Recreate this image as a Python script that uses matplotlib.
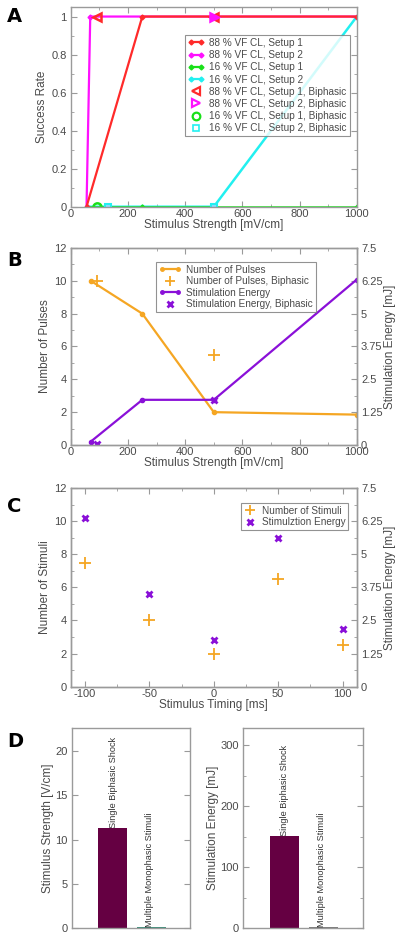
import matplotlib
matplotlib.use('Agg')
import matplotlib.pyplot as plt
from matplotlib.ticker import MultipleLocator
from matplotlib.lines import Line2D
from matplotlib.legend_handler import HandlerLine2D

plt.rcParams['font.family'] = ['Liberation Sans', 'DejaVu Sans']

# ---- panel A: success rate vs stimulus strength ----
a_x = [55, 250, 500, 1000]
a_88_s1 = [0, 1, 1, 1]
a_88_s2_x = [55, 68, 500, 1000]
a_88_s2 = [0, 1, 1, 1]
a_16_s1 = [0, 0, 0, 0]
a_16_s2 = [0, 0, 0, 1]
a_bi_88_s1_x = [92, 500]
a_bi_88_s1 = [1, 1]
a_bi_88_s2_x = [500]
a_bi_88_s2 = [1]
a_bi_16_s1_x = [92]
a_bi_16_s1 = [0]
a_bi_16_s2_x = [130, 500]
a_bi_16_s2 = [0, 0]

# ---- panel B: pulses / energy vs stimulus strength ----
b_x = [70, 250, 500, 1000]
b_pulses = [10, 8, 2, 1.85]
b_energy = [0.13, 1.72, 1.72, 6.3]
b_bi_x = [92, 500]
b_bi_pulses = [10, 5.5]
b_bi_energy = [0.03, 1.72]

# ---- panel C: stimuli / energy vs timing ----
c_timing = [-100, -50, 0, 50, 100]
c_stimuli = [7.5, 4, 2, 6.5, 2.5]
c_energy = [6.38, 3.5, 1.75, 5.62, 2.19]

# ---- panel D: bars ----
d_categories = ['Single Biphasic Shock', 'Multiple Monophasic Stimuli']
d_strength = [11.3, 0.15]
d_energy = [151, 1.0]

RED = '#ff2a2a'
MAG = '#ff10ff'
GRN = '#19e019'
CYN = '#22f0f0'
ORG = '#f5a623'
PUR = '#8a10d8'
FRAME = '#9a9a9a'
TXT = '#4a4a4a'
TICK_FS = 8
LAB_FS = 8.5
LEG_FS = 7.2
ENERGY_TICKS = [0, 1.25, 2.5, 3.75, 5, 6.25, 7.5]
ENERGY_LABELS = ['0', '1.25', '2.5', '3.75', '5', '6.25', '7.5']


def style(ax, right=True):
    for s in ax.spines.values():
        s.set_color(FRAME)
        s.set_linewidth(1.0)
    ax.tick_params(which='both', direction='in', top=True, right=right,
                   color=FRAME, labelcolor=TXT, labelsize=TICK_FS)
    ax.tick_params(axis='x', pad=1.5)
    ax.tick_params(axis='y', pad=3)
    ax.tick_params(which='major', length=4)
    ax.tick_params(which='minor', length=2)


def frame_legend(leg):
    leg.get_frame().set_edgecolor('#777777')
    leg.get_frame().set_linewidth(0.8)
    for t in leg.get_texts():
        t.set_color(TXT)


fig = plt.figure(figsize=(4, 9.38), dpi=100)

# Panel A
axA = fig.add_axes([0.177, 0.7796, 0.715, 0.2129])
mk = dict(marker='D', markersize=2.5)
axA.plot(a_x, a_16_s2, color=CYN, lw=1.8, **mk)
axA.plot(a_x, a_16_s1, color=GRN, lw=1.8, **mk)
axA.plot(a_88_s2_x, a_88_s2, color=MAG, lw=1.6, **mk)
axA.plot(a_x, a_88_s1, color=RED, lw=1.6, **mk)
axA.plot(a_bi_88_s1_x, a_bi_88_s1, ls='none', marker='<', ms=6, mfc='none', mec=RED, mew=1.8)
axA.plot(a_bi_88_s2_x, a_bi_88_s2, ls='none', marker='>', ms=6, mfc=MAG, mec=MAG, mew=1.8)
axA.plot(a_bi_16_s1_x, a_bi_16_s1, ls='none', marker='o', ms=6, mfc='none', mec=GRN, mew=1.8)
axA.plot(a_bi_16_s2_x, a_bi_16_s2, ls='none', marker='s', ms=5, mfc='#8fd8ff', mec=CYN, mew=1.5)
axA.set_xlim(0, 1000)
axA.set_ylim(0, 1.05)
axA.set_xticks([0, 200, 400, 600, 800, 1000])
axA.set_xticklabels(['0', '200', '400', '600', '800', '1000'])
axA.xaxis.set_minor_locator(MultipleLocator(100))
axA.set_yticks([0, 0.2, 0.4, 0.6, 0.8, 1.0])
axA.set_yticklabels(['0', '0.2', '0.4', '0.6', '0.8', '1'])
axA.yaxis.set_minor_locator(MultipleLocator(0.1))
style(axA)
axA.set_ylabel('Success Rate', fontsize=LAB_FS, color=TXT, labelpad=2)
axA.set_xlabel('Stimulus Strength [mV/cm]', fontsize=LAB_FS, color=TXT, labelpad=0)

hA = [
    Line2D([], [], color=RED, lw=1.6, marker='D', ms=2.5),
    Line2D([], [], color=MAG, lw=1.6, marker='D', ms=2.5),
    Line2D([], [], color=GRN, lw=1.6, marker='D', ms=2.5),
    Line2D([], [], color=CYN, lw=1.6, marker='D', ms=2.5),
    Line2D([], [], ls='none', marker='<', ms=5.5, mfc='none', mec=RED, mew=1.6),
    Line2D([], [], ls='none', marker='>', ms=5.5, mfc='none', mec=MAG, mew=1.6),
    Line2D([], [], ls='none', marker='o', ms=5.5, mfc='none', mec=GRN, mew=1.6),
    Line2D([], [], ls='none', marker='s', ms=5, mfc='none', mec=CYN, mew=1.2),
]
lA = ['88 % VF CL, Setup 1', '88 % VF CL, Setup 2', '16 % VF CL, Setup 1',
      '16 % VF CL, Setup 2', '88 % VF CL, Setup 1, Biphasic',
      '88 % VF CL, Setup 2, Biphasic', '16 % VF CL, Setup 1, Biphasic',
      '16 % VF CL, Setup 2, Biphasic']
hmapA = {h: HandlerLine2D(numpoints=2) for h in hA[:4]}
legA = axA.legend(hA, lA, loc='upper right', bbox_to_anchor=(0.975, 0.86),
                  fontsize=LEG_FS, frameon=True, fancybox=False, numpoints=1,
                  handler_map=hmapA, handlelength=1.6, handletextpad=0.5,
                  labelspacing=0.22, borderpad=0.3, borderaxespad=0)
frame_legend(legA)

# Panel B
axB = fig.add_axes([0.177, 0.5256, 0.715, 0.21])
axB2 = axB.twinx()
axB.plot(b_x, b_pulses, color=ORG, lw=1.6, marker='o', ms=3)
axB.plot(b_bi_x, b_bi_pulses, ls='none', marker='+', ms=8, mew=1.3, color=ORG)
axB2.plot(b_x, b_energy, color=PUR, lw=1.6, marker='o', ms=3)
axB2.plot(b_bi_x, b_bi_energy, ls='none', marker='x', ms=5, mew=2, color=PUR)
axB.set_xlim(0, 1000)
axB.set_ylim(0, 12)
axB2.set_ylim(0, 7.5)
axB.set_xticks([0, 200, 400, 600, 800, 1000])
axB.set_xticklabels(['0', '200', '400', '600', '800', '1000'])
axB.xaxis.set_minor_locator(MultipleLocator(100))
axB.yaxis.set_major_locator(MultipleLocator(2))
axB.yaxis.set_minor_locator(MultipleLocator(1))
axB2.set_yticks(ENERGY_TICKS)
axB2.set_yticklabels(ENERGY_LABELS)
axB2.yaxis.set_minor_locator(MultipleLocator(0.625))
style(axB, right=False)
style(axB2)
axB2.tick_params(which='both', left=False, top=False)
axB.set_ylabel('Number of Pulses', fontsize=LAB_FS, color=TXT, labelpad=2)
axB2.set_ylabel('Stimulation Energy [mJ]', fontsize=LAB_FS, color=TXT, labelpad=1)
axB.set_xlabel('Stimulus Strength [mV/cm]', fontsize=LAB_FS, color=TXT, labelpad=0)
hB = [
    Line2D([], [], color=ORG, lw=1.6, marker='o', ms=2.5),
    Line2D([], [], ls='none', marker='+', ms=7, mew=1.3, color=ORG),
    Line2D([], [], color=PUR, lw=1.6, marker='o', ms=2.5),
    Line2D([], [], ls='none', marker='x', ms=5, mew=2, color=PUR),
]
lB = ['Number of Pulses', 'Number of Pulses, Biphasic', 'Stimulation Energy',
      'Stimulation Energy, Biphasic']
hmapB = {hB[0]: HandlerLine2D(numpoints=2), hB[2]: HandlerLine2D(numpoints=2)}
legB = axB2.legend(hB, lB, loc='upper left', bbox_to_anchor=(0.298, 0.93),
                   fontsize=LEG_FS, frameon=True, fancybox=False, numpoints=1,
                   handler_map=hmapB, handlelength=2.2, handletextpad=0.5,
                   labelspacing=0.15, borderpad=0.3, borderaxespad=0)
frame_legend(legB)

# Panel C
axC = fig.add_axes([0.177, 0.2679, 0.715, 0.2118])
axC2 = axC.twinx()
axC.plot(c_timing, c_stimuli, ls='none', marker='+', ms=8, mew=1.3, color=ORG)
axC2.plot(c_timing, c_energy, ls='none', marker='x', ms=5, mew=2, color=PUR)
axC.set_xlim(-111, 111)
axC.set_ylim(0, 12)
axC2.set_ylim(0, 7.5)
axC.set_xticks([-100, -50, 0, 50, 100])
axC.set_xticklabels(['-100', '-50', '0', '50', '100'])
axC.xaxis.set_minor_locator(MultipleLocator(25))
axC.yaxis.set_major_locator(MultipleLocator(2))
axC.yaxis.set_minor_locator(MultipleLocator(1))
axC2.set_yticks(ENERGY_TICKS)
axC2.set_yticklabels(ENERGY_LABELS)
axC2.yaxis.set_minor_locator(MultipleLocator(0.625))
style(axC, right=False)
style(axC2)
axC2.tick_params(which='both', left=False, top=False)
axC.set_ylabel('Number of Stimuli', fontsize=LAB_FS, color=TXT, labelpad=2)
axC2.set_ylabel('Stimulation Energy [mJ]', fontsize=LAB_FS, color=TXT, labelpad=1)
axC.set_xlabel('Stimulus Timing [ms]', fontsize=LAB_FS, color=TXT, labelpad=0)
hC = [
    Line2D([], [], ls='none', marker='+', ms=7, mew=1.3, color=ORG),
    Line2D([], [], ls='none', marker='x', ms=5, mew=2, color=PUR),
]
legC = axC2.legend(hC, ['Number of Stimuli', 'Stimulztion Energy'], loc='upper right',
                   bbox_to_anchor=(0.97, 0.925), fontsize=LEG_FS, frameon=True,
                   fancybox=False, numpoints=1, handlelength=1.2,
                   handletextpad=0.6, labelspacing=0.15, borderpad=0.3,
                   borderaxespad=0)
frame_legend(legC)

# Panel D
bar_pos = [0.345, 0.675]
text_pos = [0.35, 0.655]
bar_colors_l = ['#650042', '#3f8f7c']
bar_colors_r = ['#650042', '#7a7a7a']

axD1 = fig.add_axes([0.179, 0.01066, 0.296, 0.2132])
axD1.bar(bar_pos, d_strength, width=0.24, color=bar_colors_l)
axD1.set_xlim(0, 1)
axD1.set_ylim(0, 22.6)
axD1.set_xticks([])
axD1.yaxis.set_major_locator(MultipleLocator(5))
style(axD1)
axD1.tick_params(which='both', top=False, bottom=False)
axD1.set_ylabel('Stimulus Strength [V/cm]', fontsize=LAB_FS, color=TXT, labelpad=1)
for xp, v, name in zip(text_pos, d_strength, d_categories):
    axD1.text(xp, v, name, rotation=90, ha='center', va='bottom',
              fontsize=6.6, color='#333333')

axD2 = fig.add_axes([0.608, 0.01066, 0.2985, 0.2132])
axD2.bar(bar_pos, d_energy, width=0.24, color=bar_colors_r)
axD2.set_xlim(0, 1)
axD2.set_ylim(0, 328)
axD2.set_xticks([])
axD2.yaxis.set_major_locator(MultipleLocator(100))
axD2.yaxis.set_minor_locator(MultipleLocator(50))
style(axD2)
axD2.tick_params(which='both', top=False, bottom=False)
axD2.set_ylabel('Stimulation Energy [mJ]', fontsize=LAB_FS, color=TXT, labelpad=1)
for xp, v, name in zip(text_pos, d_energy, d_categories):
    axD2.text(xp, v, name, rotation=90, ha='center', va='bottom',
              fontsize=6.6, color='#333333')

# panel letters
for letter, y in zip('ABCD', [16, 261, 506, 741]):
    fig.text(0.017, 1 - y / 938, letter, fontsize=14, fontweight='bold',
             va='center', ha='left', color='black', family='DejaVu Sans')

fig.savefig('out.png', dpi=100)
